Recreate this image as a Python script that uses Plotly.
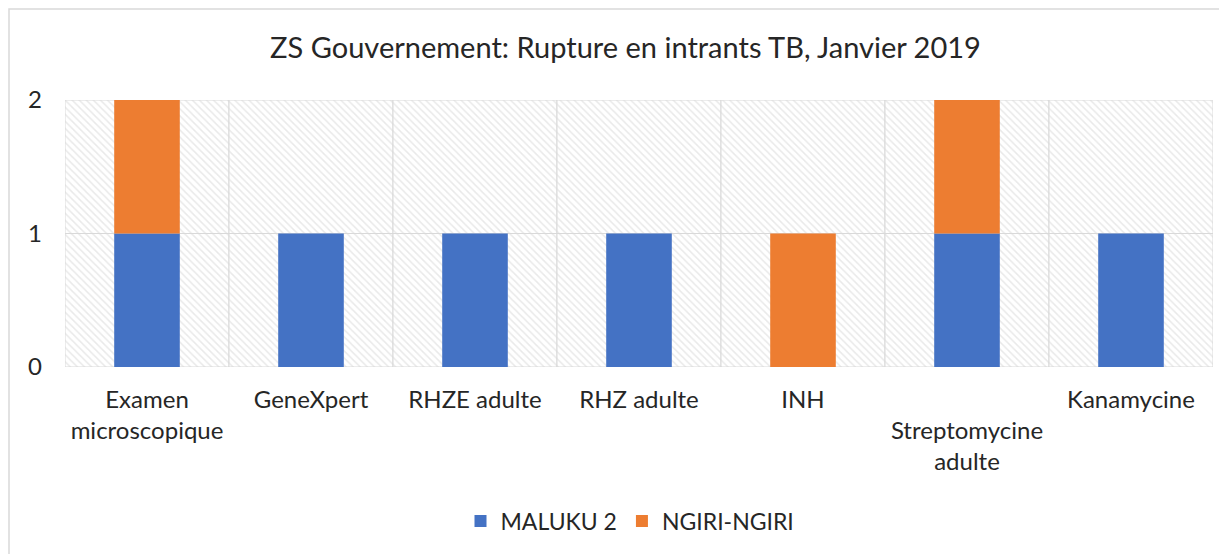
import plotly.graph_objects as go

categories = ["Examen microscopique", "GeneXpert", "RHZE adulte", "RHZ adulte",
              "INH", "Streptomycine adulte", "Kanamycine"]
tick_labels = ["Examen<br>microscopique", "GeneXpert", "RHZE adulte", "RHZ adulte",
               "INH", "<br>Streptomycine<br>adulte", "Kanamycine"]
maluku = [1, 1, 1, 1, 0, 1, 1]
ngiri = [1, 0, 0, 0, 1, 1, 0]
y_max = 2

FONT = "Lato"
TXT = "#262626"
GRID = "#d9d9d9"

fig = go.Figure()

# hatched plot-area background (two stacked cells per category)
for base in range(y_max):
    fig.add_trace(go.Bar(
        x=categories, y=[1] * len(categories), base=[base] * len(categories),
        width=1, showlegend=False, hoverinfo="skip",
        marker=dict(color="white",
                    line=dict(color=GRID, width=1),
                    pattern=dict(shape="\\", fgcolor="#d4d4d4", bgcolor="white",
                                 size=5, solidity=0.3)),
    ))

fig.add_trace(go.Bar(x=categories, y=maluku, name="MALUKU 2", width=0.4,
                     marker=dict(color="#4472C4", line=dict(width=0))))
fig.add_trace(go.Bar(x=categories, y=ngiri, base=maluku, name="NGIRI-NGIRI", width=0.4,
                     marker=dict(color="#ED7D31", line=dict(width=0))))

fig.update_layout(
    width=1227, height=554,
    barmode="overlay",
    paper_bgcolor="white", plot_bgcolor="white",
    margin=dict(l=57, r=22, t=92, b=195),
    font=dict(family=FONT, size=24, color=TXT),
    title=dict(text="ZS Gouvernement: Rupture en intrants TB, Janvier 2019",
               x=617.5 / 1227, xref="container", xanchor="center",
               y=1 - 40 / 554, yref="container", yanchor="middle",
               font=dict(family=FONT, size=29, color=TXT)),
    xaxis=dict(tickmode="array", tickvals=categories, ticktext=tick_labels,
               showgrid=False, zeroline=False, showline=False,
               ticks="", ticklabelstandoff=16, range=[-0.5, 6.5]),
    yaxis=dict(range=[0, y_max], tickvals=[0, 1, 2], showgrid=False,
               zeroline=False, showline=False, ticks="", ticklabelstandoff=22),
    legend=dict(orientation="h", x=(622 - 57) / 1148, xanchor="center",
                y=(359 - 513) / 267, yanchor="middle",
                font=dict(family=FONT, size=23, color=TXT),
                itemwidth=30, traceorder="normal"),
    shapes=[dict(type="rect", xref="paper", yref="paper",
                 x0=(1 - 57) / 1148, x1=1.05, y0=-0.9, y1=(359 - 1) / 267,
                 line=dict(color="#d9d9d9", width=1.5), layer="below")],
    showlegend=True,
)

fig.write_html("out.html")
